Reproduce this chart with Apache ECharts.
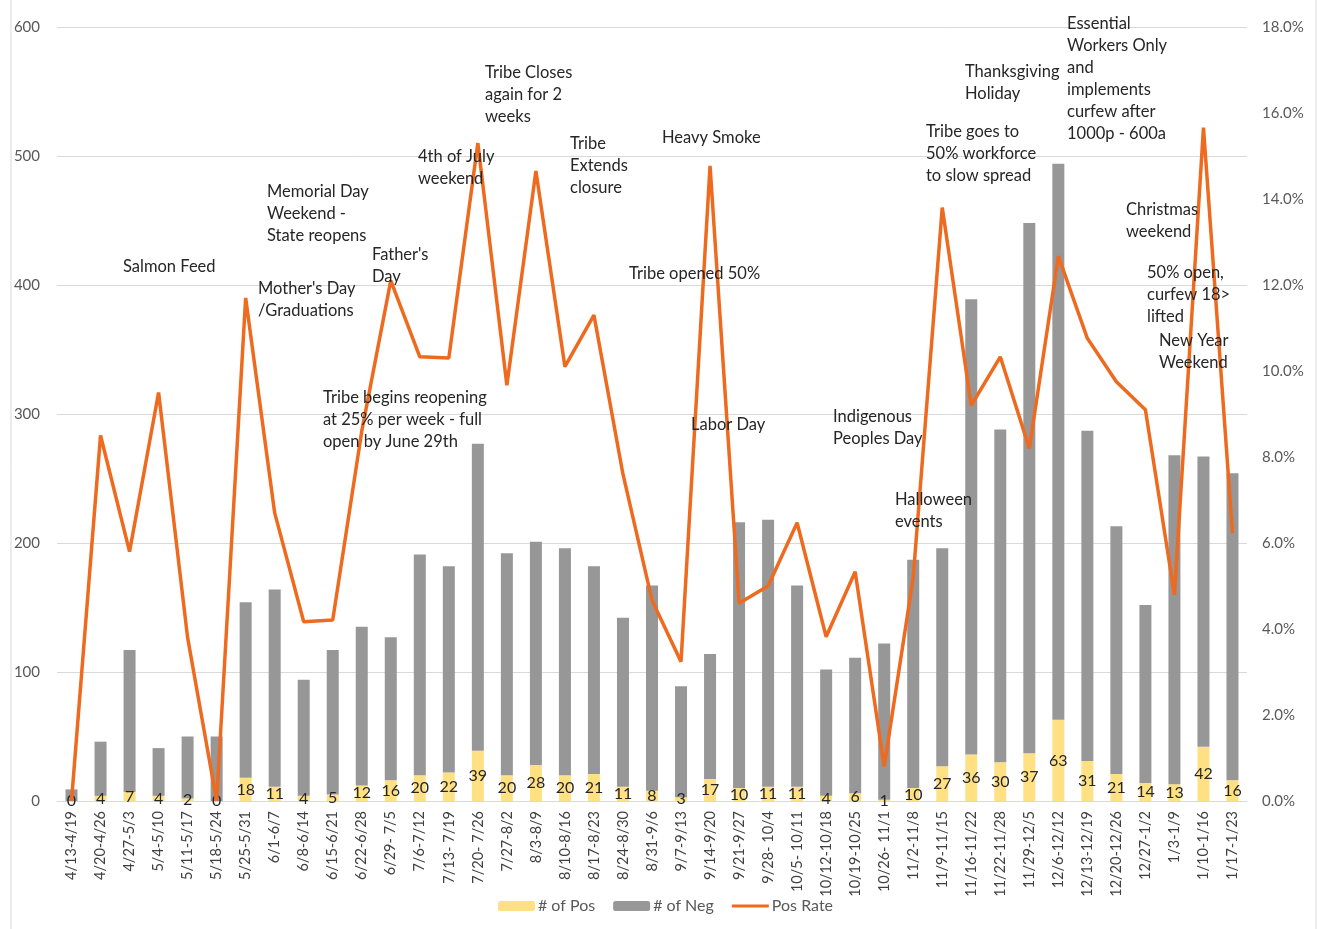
<!DOCTYPE html>
<html>
<head>
<meta charset="utf-8">
<script src="https://cdn.jsdelivr.net/npm/echarts@6/dist/echarts.min.js"></script>
<style>
html,body{margin:0;padding:0;background:#fff;}
#chart{width:1331px;height:929px;}
</style>
</head>
<body>
<div id="chart"></div>
<script>
const categories = ["4/13-4/19","4/20-4/26","4/27-5/3","5/4-5/10","5/11-5/17","5/18-5/24","5/25-5/31","6/1-6/7","6/8-6/14","6/15-6/21","6/22-6/28","6/29- 7/5","7/6-7/12","7/13- 7/19","7/20- 7/26","7/27-8/2","8/3-8/9","8/10-8/16","8/17-8/23","8/24-8/30","8/31-9/6","9/7-9/13","9/14-9/20","9/21-9/27","9/28- 10/4","10/5- 10/11","10/12-10/18","10/19-10/25","10/26- 11/1","11/2-11/8","11/9-11/15","11/16-11/22","11/22-11/28","11/29-12/5","12/6-12/12","12/13-12/19","12/20-12/26","12/27-1/2","1/3-1/9","1/10-1/16","1/17-1/23"];
const posCount = [0,4,7,4,2,0,18,11,4,5,12,16,20,22,39,20,28,20,21,11,8,3,17,10,11,11,4,6,1,10,27,36,30,37,63,31,21,14,13,42,16];
const negCount = [9,42,110,37,48,50,136,153,90,112,123,111,171,160,238,172,173,176,161,131,159,86,97,206,207,156,98,105,121,177,169,353,258,411,431,256,192,138,255,225,238];
const posRate = [0,8.5,5.8,9.5,3.8,0,11.7,6.7,4.17,4.21,8.6,12.1,10.33,10.3,15.3,9.67,14.65,10.1,11.3,7.6,4.67,3.24,14.77,4.6,5.0,6.47,3.82,5.33,0.8,5.2,13.8,9.2,10.33,8.2,12.67,10.76,9.75,9.1,4.79,15.66,6.23];
const leftTicks = [0,100,200,300,400,500,600];
const rightTicks = [0,2,4,6,8,10,12,14,16,18];

// annotation text boxes (text, left px, top px)
const annotations = [
  ["Salmon Feed",123,256],
  ["Memorial Day\nWeekend -\nState reopens",267,181],
  ["Mother's Day\n/Graduations",258,278],
  ["Father's\nDay",372,244],
  ["Tribe begins reopening\nat 25% per week - full\nopen by June 29th",323,387],
  ["4th of July\nweekend",418,146],
  ["Tribe Closes\nagain for 2\nweeks",485,62],
  ["Tribe\nExtends\nclosure",570,133],
  ["Heavy Smoke",662,127],
  ["Tribe opened 50%",629,263],
  ["Labor Day",691,414],
  ["Indigenous\nPeoples Day",833,406],
  ["Halloween\nevents",895,489],
  ["Tribe goes to\n50% workforce\nto slow spread",926,121],
  ["Thanksgiving\nHoliday",965,61],
  ["Essential\nWorkers Only\nand\nimplements\ncurfew after\n1000p - 600a",1067,13],
  ["Christmas\nweekend",1126,199],
  ["50% open,\ncurfew 18>\nlifted",1147,262],
  ["New Year\nWeekend",1159,330]
];

const FONT = 'Lato';
const chart = echarts.init(document.getElementById('chart'));

const graphics = annotations.map(a => ({
  type: 'text', left: a[1], top: a[2], z: 100,
  style: {text: a[0], fill: '#262626', font: '16.5px ' + FONT, lineHeight: 22}
}));
graphics.push({type:'rect', shape:{x:11,y:-2,width:1305,height:935}, style:{fill:'none', stroke:'#D9D9D9', lineWidth:1}, z:-1});

const lineIcon = 'path://M0,0L37,0L37,0.01L0,0.01Z M0,3.5L37,3.5L37,6.5L0,6.5Z M0,9.99L37,9.99L37,10L0,10Z';

chart.setOption({
  animation: false,
  backgroundColor: '#fff',
  textStyle: {fontFamily: FONT},
  grid: {left: 57, right: 84, top: 27, bottom: 128, containLabel: false},
  legend: {
    bottom: 10, left: 'center',
    itemWidth: 37, itemHeight: 10, itemGap: 18,
    textStyle: {color: '#595959', fontSize: 16, fontFamily: FONT, padding:[0,0,0,-2]},
    data: ['# of Pos', '# of Neg', {name: 'Pos Rate', icon: lineIcon}]
  },
  xAxis: {
    type: 'category', data: categories,
    axisLine: {lineStyle: {color: '#D9D9D9', width: 1}},
    axisTick: {show: false},
    axisLabel: {rotate: 90, interval: 0, color: '#404040', fontSize: 14.5, margin: 10, fontFamily: FONT}
  },
  yAxis: [
    {type: 'value', min: leftTicks[0], max: leftTicks[leftTicks.length-1], interval: 100,
     axisLine: {show: false}, axisTick: {show: false},
     splitLine: {lineStyle: {color: '#D9D9D9', width: 1}},
     axisLabel: {color: '#595959', fontSize: 15, margin: 17, fontFamily: FONT}},
    {type: 'value', min: rightTicks[0], max: rightTicks[rightTicks.length-1], interval: 2,
     axisLine: {show: false}, axisTick: {show: false}, splitLine: {show: false},
     axisLabel: {color: '#595959', fontSize: 15, margin: 15, fontFamily: FONT,
       formatter: v => v.toFixed(1) + '%'}}
  ],
  graphic: graphics,
  series: [
    {name: '# of Pos', type: 'bar', stack: 'tot', data: posCount, barWidth: 12,
     itemStyle: {color: '#FFE183'},
     label: {show: true, position: 'inside', color: '#262626', fontSize: 16, fontFamily: FONT}},
    {name: '# of Neg', type: 'bar', stack: 'tot', data: negCount, barWidth: 12,
     itemStyle: {color: '#979797'}},
    {name: 'Pos Rate', type: 'line', yAxisIndex: 1, data: posRate,
     symbol: 'none', lineStyle: {color: '#EE6A1F', width: 3.5}, itemStyle: {color: '#EE6A1F'}, z: 3}
  ]
});
</script>
</body>
</html>
